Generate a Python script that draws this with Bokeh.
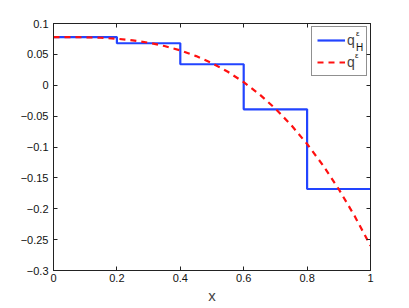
from bokeh.plotting import figure
from bokeh.models import (Range1d, FixedTicker, LinearAxis, Legend, LegendItem, Label)
from bokeh.embed import file_html
from bokeh.resources import INLINE

# ---- data ----
step_edges = [0.0, 0.2, 0.4, 0.6, 0.8, 1.0]
step_values = [0.078, 0.068, 0.034, -0.039, -0.168]

curve_x = [0.0, 0.05, 0.1, 0.15, 0.2, 0.25, 0.3, 0.35, 0.4, 0.45, 0.5,
           0.55, 0.6, 0.65, 0.7, 0.75, 0.8, 0.85, 0.9, 0.95, 1.0]
curve_y = [0.078, 0.078, 0.0777, 0.0769, 0.0753, 0.0727, 0.0689, 0.0635, 0.0564, 0.0472, 0.0358,
           0.0218, 0.005, -0.0148, -0.0379, -0.0646, -0.0951, -0.1296, -0.1684, -0.2118, -0.26]

x_ticks = [0, 0.2, 0.4, 0.6, 0.8, 1]
x_tick_labels = ["0", "0.2", "0.4", "0.6", "0.8", "1"]
y_ticks = [-0.3, -0.25, -0.2, -0.15, -0.1, -0.05, 0, 0.05, 0.1]
y_tick_labels = ["\u22120.3", "\u22120.25", "\u22120.2", "\u22120.15", "\u22120.1",
                 "\u22120.05", "0", "0.05", "0.1"]

# build step polyline from edges/values
sx, sy = [], []
for i, v in enumerate(step_values):
    sx += [step_edges[i], step_edges[i + 1]]
    sy += [v, v]

FONT = "Liberation Sans"

p = figure(width=409, height=308, output_backend="svg", toolbar_location=None,
           x_range=Range1d(0, 1), y_range=Range1d(-0.3, 0.1),
           min_border_left=53, min_border_top=23, min_border_right=39, min_border_bottom=38)
p.grid.visible = False
p.outline_line_color = "#222222"
p.background_fill_color = "white"
p.border_fill_color = "white"

blue = p.line(sx, sy, line_color="#2244ff", line_width=2.2)
red = p.line(curve_x, curve_y, line_color="#ff1010", line_width=2.2, line_dash="6 5")

def style_axis(ax, show_labels=True):
    ax.axis_line_color = "#222222"
    ax.major_tick_line_color = "#222222"
    ax.major_tick_in = 4
    ax.major_tick_out = 0
    ax.minor_tick_line_color = None
    ax.major_label_text_font = FONT
    ax.major_label_text_font_size = "11px"
    ax.major_label_text_color = "#111111"
    ax.major_label_standoff = 4 if show_labels else 0

xa = p.xaxis[0]
xa.ticker = FixedTicker(ticks=x_ticks)
xa.major_label_overrides = {t: l for t, l in zip(x_ticks, x_tick_labels)}
style_axis(xa)
xa.major_label_standoff = 3
xa.axis_label = "x"
xa.axis_label_text_font = FONT
xa.axis_label_text_font_style = "normal"
xa.axis_label_text_font_size = "15px"
xa.axis_label_standoff = 2

ya = p.yaxis[0]
ya.ticker = FixedTicker(ticks=y_ticks)
ya.major_label_overrides = {t: l for t, l in zip(y_ticks, y_tick_labels)}
style_axis(ya)
ya.major_label_standoff = 5

top = LinearAxis(ticker=FixedTicker(ticks=x_ticks))
style_axis(top, False)
top.major_label_overrides = {t: "" for t in x_ticks}
p.add_layout(top, "above")
right = LinearAxis(ticker=FixedTicker(ticks=y_ticks))
style_axis(right, False)
right.major_label_overrides = {t: "" for t in y_ticks}
p.add_layout(right, "right")

legend = Legend(items=[LegendItem(label="q", renderers=[blue]),
                       LegendItem(label="q", renderers=[red])],
                location="top_right", margin=3, padding=5, spacing=6,
                glyph_width=28, glyph_height=16, label_height=16, label_width=14,
                label_standoff=2, label_text_font=FONT, label_text_font_size="14px",
                border_line_color="#222222", background_fill_alpha=0.0)
p.add_layout(legend, "center")

sup_style = dict(text_font=FONT, text_color="#111111", text_baseline="middle")
p.add_layout(Label(x=0.954, y=0.0835, text="\u03b5", text_font_size="8px", **sup_style))
p.add_layout(Label(x=0.954, y=0.0605, text="H", text_font_size="10px", **sup_style))
p.add_layout(Label(x=0.951, y=0.0480, text="\u03b5", text_font_size="8px", **sup_style))

open("out.html", "w").write(file_html(p, INLINE))
